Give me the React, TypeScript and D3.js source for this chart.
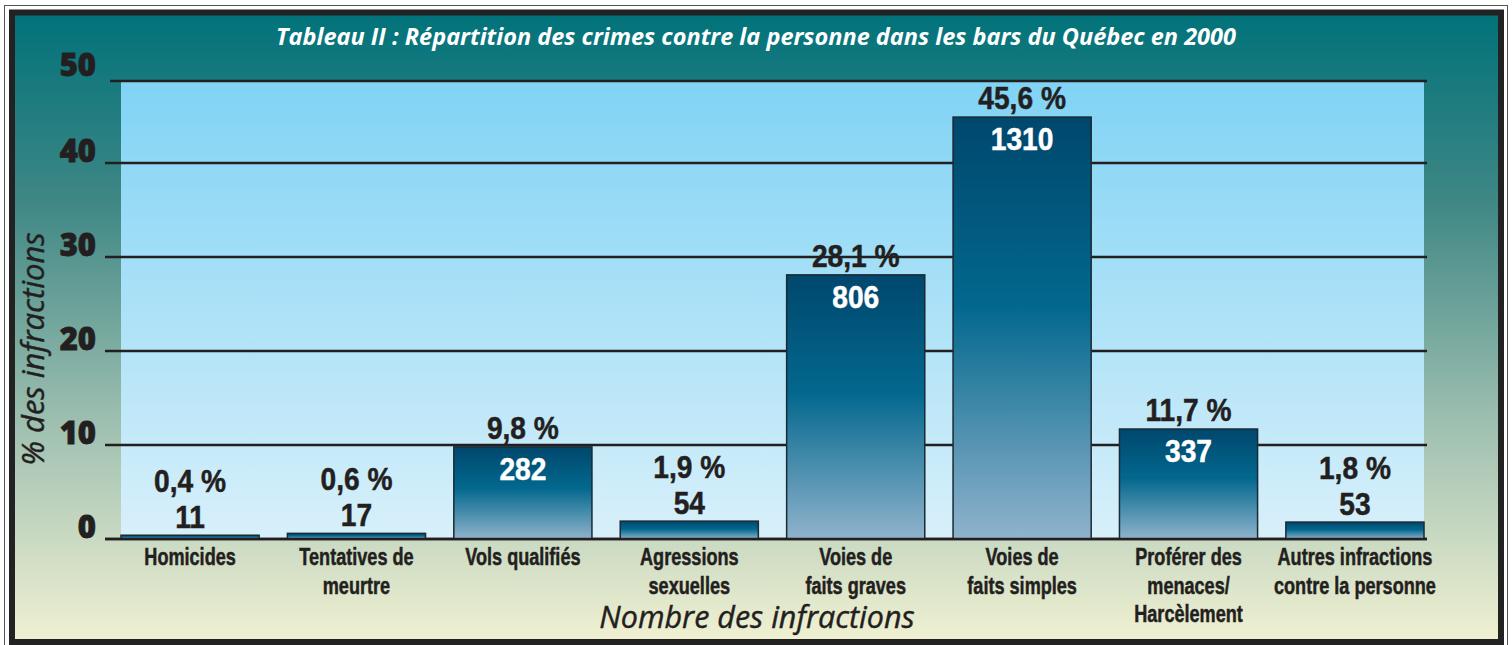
import React from "react";
import * as d3 from "d3";

const categories: string[][] = [
  ["Homicides"],
  ["Tentatives de", "meurtre"],
  ["Vols qualifiés"],
  ["Agressions", "sexuelles"],
  ["Voies de", "faits graves"],
  ["Voies de", "faits simples"],
  ["Proférer des", "menaces/", "Harcèlement"],
  ["Autres infractions", "contre la personne"],
];
const percents: number[] = [0.4, 0.6, 9.8, 1.9, 28.1, 45.6, 11.7, 1.8];
const counts: number[] = [11, 17, 282, 54, 806, 1310, 337, 53];
const percentLabels: string[] = ["0,4 %", "0,6 %", "9,8 %", "1,9 %", "28,1 %", "45,6 %", "11,7 %", "1,8 %"];
const yTicks: number[] = [0, 10, 20, 30, 40, 50];

const title = "Tableau II : Répartition des crimes contre la personne dans les bars du Québec en 2000";
const xTitle = "Nombre des infractions";
const yTitle = "% des infractions";

const W = 1512;
const H = 645;
const plotLeft = 121;
const plotRight = 1424;
const gridLeft = 105;
const gridRight = 1427;

const narrowBase = "'Liberation Sans', Arial, sans-serif";
const humanist = "'Open Sans', 'Noto Sans', sans-serif";
const ink = "#231f20";

function CText(props: { x: number; y: number; sx: number; size: number; fill?: string; children: React.ReactNode }) {
  const fill = props.fill || ink;
  return (
    <text
      transform={`translate(${props.x},${props.y}) scale(${props.sx},1)`}
      textAnchor="middle"
      fontFamily={narrowBase}
      fontWeight={700}
      fontSize={props.size}
      fill={fill}
      stroke={fill}
      strokeWidth={0.5}
    >
      {props.children}
    </text>
  );
}

export default function App() {
  const ids = categories.map((c) => c.join(" "));
  const x = d3.scaleBand<string>().domain(ids).range([121, 1424]).paddingInner(0.17).paddingOuter(0);
  // the original chart compresses the top interval
  const y = d3.scaleLinear().domain([0, 40, 50]).range([539, 163, 81]);
  const bw = x.bandwidth();

  return (
    <svg width={W} height={H} style={{ position: "absolute", left: 0, top: 0, display: "block" }}>
      <defs>
        <linearGradient id="panelGrad" x1="0" y1="0" x2="0" y2="1">
          <stop offset="0" stopColor="#00727a" />
          <stop offset="0.3" stopColor="#3f8785" />
          <stop offset="0.65" stopColor="#9dbfb0" />
          <stop offset="1" stopColor="#f1f1d2" />
        </linearGradient>
        <linearGradient id="plotGrad" x1="0" y1="0" x2="0" y2="1">
          <stop offset="0" stopColor="#80d3f5" />
          <stop offset="1" stopColor="#d8f0fa" />
        </linearGradient>
        <linearGradient id="barGrad" x1="0" y1="0" x2="0" y2="1">
          <stop offset="0" stopColor="#00476d" />
          <stop offset="0.45" stopColor="#03688e" />
          <stop offset="1" stopColor="#90b3cc" />
        </linearGradient>
      </defs>

      <rect x={0} y={0} width={W} height={H} fill="#ffffff" />
      <rect x={4.5} y={5.5} width={1503} height={650} fill="none" stroke="#555" strokeWidth={1} />
      <rect x={12} y={12.5} width={1489} height={629.5} fill="url(#panelGrad)" stroke="#222" strokeWidth={6} />

      <rect x={plotLeft} y={y(50) + 1} width={plotRight - plotLeft} height={y(0) - y(50) - 1} fill="url(#plotGrad)" />

      {yTicks.map((t) => (
        <g key={t}>
          <line x1={t === 50 ? 110 : gridLeft} x2={gridRight} y1={y(t)} y2={y(t)} stroke={ink} strokeWidth={2.5} />
          <text
            x={96}
            y={y(t) - (t === 50 ? 5 : 1)}
            textAnchor="end"
            fontFamily={humanist}
            fontWeight={800}
            fontSize={31}
            fill={ink}
            stroke={ink}
            strokeWidth={0.8}
          >
            {t}
          </text>
        </g>
      ))}

      {percents.map((p, i) => {
        const bx = x(ids[i]) as number;
        const top = y(p);
        const inside = p >= 5;
        const cx = bx + bw / 2;
        return (
          <g key={ids[i]}>
            <rect x={bx} y={top} width={bw} height={y(0) - top} fill="url(#barGrad)" stroke="#1b2a33" strokeWidth={1.5} />
            {inside ? (
              <>
                <CText x={cx} y={top - 8} sx={0.88} size={32}>
                  {percentLabels[i]}
                </CText>
                <CText x={cx} y={top + 33} sx={0.88} size={32} fill="#ffffff">
                  {counts[i]}
                </CText>
              </>
            ) : (
              <>
                <CText x={cx} y={top - 43} sx={0.88} size={32}>
                  {percentLabels[i]}
                </CText>
                <CText x={cx} y={top - 7} sx={0.88} size={32}>
                  {counts[i]}
                </CText>
              </>
            )}
            {categories[i].map((line, j) => (
              <CText key={j} x={cx} y={565 + j * 28.5} sx={0.77} size={23.5}>
                {line}
              </CText>
            ))}
          </g>
        );
      })}

      <line x1={gridLeft} x2={gridRight} y1={y(0)} y2={y(0)} stroke={ink} strokeWidth={2.5} />

      <text x={756} y={45} textAnchor="middle" fontFamily={humanist} fontWeight={700} fontStyle="italic" fontSize={23.5} fill="#ffffff">
        {title}
      </text>
      <text x={757} y={628} textAnchor="middle" fontFamily={humanist} fontStyle="italic" fontSize={30.5} fill={ink} stroke={ink} strokeWidth={0.4}>
        {xTitle}
      </text>
      <text
        transform={`translate(44,349) rotate(-90)`}
        textAnchor="middle"
        fontFamily={humanist}
        fontStyle="italic"
        fontSize={31}
        fill={ink}
        stroke={ink}
        strokeWidth={0.4}
      >
        {yTitle}
      </text>
    </svg>
  );
}
